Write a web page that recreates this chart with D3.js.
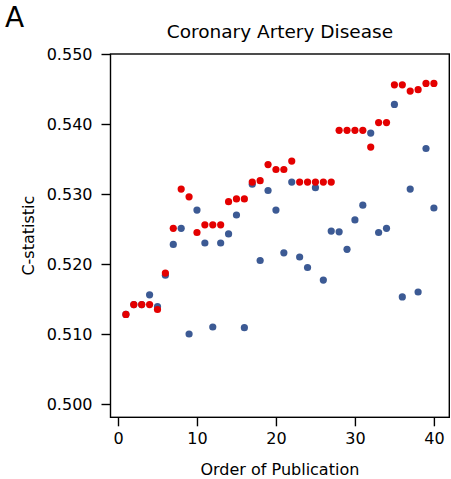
<!DOCTYPE html>
<html>
<head>
<meta charset="utf-8">
<script src="https://cdn.jsdelivr.net/npm/d3@7"></script>
<style>
  html, body { margin: 0; padding: 0; background: #fff; }
  svg { display: block; font-family: "DejaVu Sans", sans-serif; }
</style>
</head>
<body>
<svg id="chart" width="451" height="479"></svg>
<script>
const panelLabel = "A";
const title = "Coronary Artery Disease";
const xLabel = "Order of Publication";
const yLabel = "C-statistic";

const order = d3.range(1, 41);
const individual = [
  0.5128, 0.5142, 0.5142, 0.5156, 0.5139, 0.5184, 0.5228, 0.5251, 0.5100, 0.5277,
  0.5230, 0.5110, 0.5230, 0.5243, 0.5270, 0.5109, 0.5314, 0.5205, 0.5305, 0.5277,
  0.5216, 0.5317, 0.5210, 0.5195, 0.5309, 0.5177, 0.5247, 0.5246, 0.5221, 0.5263,
  0.5284, 0.5387, 0.5245, 0.5251, 0.5428, 0.5153, 0.5307, 0.5160, 0.5365, 0.5280
];
const cumulative = [
  0.5128, 0.5142, 0.5142, 0.5142, 0.5135, 0.5187, 0.5251, 0.5307, 0.5296, 0.5245,
  0.5256, 0.5256, 0.5256, 0.5289, 0.5293, 0.5293, 0.5317, 0.5319, 0.5342, 0.5335,
  0.5335, 0.5347, 0.5317, 0.5317, 0.5317, 0.5317, 0.5317, 0.5391, 0.5391, 0.5391,
  0.5391, 0.5367, 0.5402, 0.5402, 0.5456, 0.5456, 0.5447, 0.5449, 0.5458, 0.5458
];
const xTicks = [0, 10, 20, 30, 40];
const yTicks = [0.500, 0.510, 0.520, 0.530, 0.540, 0.550];

(function () {
const blue = "#3c5a94";
const red = "#e40000";

const svg = d3.select("#chart");
const pLeft = 110.5, pRight = 449.3, pTop = 54, pBottom = 417.3;

const x = d3.scaleLinear().domain([-0.95, 41.95]).range([pLeft, pRight]);
const y = d3.scaleLinear().domain([0.4981, 0.550]).range([pBottom, pTop]);

svg.append("text").attr("x", 5).attr("y", 27)
  .attr("font-size", 28).attr("fill", "#000").text(panelLabel);

svg.append("text").attr("x", (pLeft + pRight) / 2).attr("y", 38)
  .attr("text-anchor", "middle").attr("font-size", 18.5).attr("fill", "#000").text(title);

const xAxis = d3.axisBottom(x).tickValues(xTicks).tickFormat(d3.format("d"))
  .tickSize(9).tickPadding(6);
const yAxis = d3.axisLeft(y).tickValues(yTicks).tickFormat(d3.format(".3f"))
  .tickSize(9).tickPadding(9);

const gx = svg.append("g").attr("transform", `translate(0,${pBottom})`).call(xAxis);
const gy = svg.append("g").attr("transform", `translate(${pLeft},0)`).call(yAxis);
[gx, gy].forEach(g => {
  g.select(".domain").remove();
  g.selectAll(".tick line").attr("stroke", "#000").attr("stroke-width", 1.4);
  g.selectAll(".tick text").attr("font-size", 16).attr("fill", "#000")
    .attr("font-family", "DejaVu Sans, sans-serif");
});

const plot = svg.append("g");
plot.selectAll("circle.ind").data(order).join("circle")
  .attr("class", "ind")
  .attr("cx", (d) => x(d))
  .attr("cy", (d, i) => y(individual[i]))
  .attr("r", 3.6).attr("fill", blue);
plot.selectAll("circle.cum").data(order).join("circle")
  .attr("class", "cum")
  .attr("cx", (d) => x(d))
  .attr("cy", (d, i) => y(cumulative[i]))
  .attr("r", 3.6).attr("fill", red);

svg.append("rect").attr("x", pLeft).attr("y", pTop)
  .attr("width", pRight - pLeft).attr("height", pBottom - pTop)
  .attr("fill", "none").attr("stroke", "#000").attr("stroke-width", 1.4);

svg.append("text").attr("x", (pLeft + pRight) / 2).attr("y", 475)
  .attr("text-anchor", "middle").attr("font-size", 16).attr("fill", "#000").text(xLabel);
svg.append("text").attr("transform", `translate(34,${(pTop + pBottom) / 2}) rotate(-90)`)
  .attr("text-anchor", "middle").attr("font-size", 16).attr("fill", "#000").text(yLabel);
})();
</script>
</body>
</html>
